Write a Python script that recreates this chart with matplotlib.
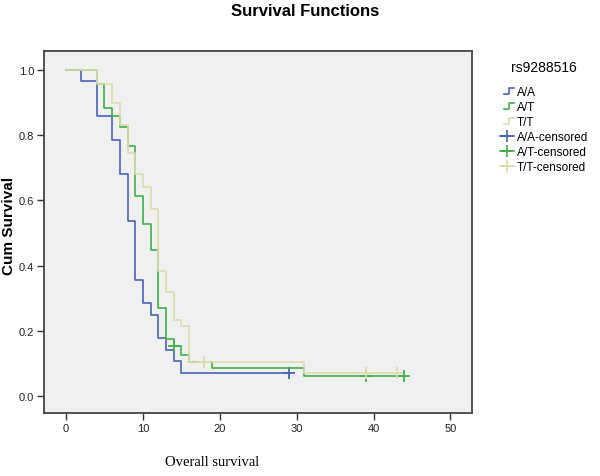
import matplotlib
matplotlib.use("Agg")
import matplotlib.pyplot as plt
from matplotlib.lines import Line2D
from matplotlib.legend_handler import HandlerBase

plt.rcParams['font.family'] = ['Liberation Sans', 'DejaVu Sans']

# A/A
aa_time = [0, 2, 4, 6, 7, 8, 9, 10, 11, 12, 13, 14, 15, 29]
aa_surv = [1.0, 0.964, 0.857, 0.786, 0.679, 0.536, 0.357, 0.286, 0.25, 0.179, 0.143, 0.107, 0.071, 0.071]
aa_cens_time = [29]
aa_cens_surv = [0.071]

# A/T
at_time = [0, 4, 5, 6, 7, 8, 9, 10, 11, 12, 13, 14, 15, 16, 19, 31, 44]
at_surv = [1.0, 0.956, 0.882, 0.859, 0.823, 0.765, 0.614, 0.529, 0.448, 0.270, 0.175, 0.153, 0.127, 0.104, 0.086, 0.063, 0.063]
at_cens_time = [14, 39, 44]
at_cens_surv = [0.153, 0.063, 0.063]

# T/T
tt_time = [0, 4, 6, 7, 8, 9, 10, 11, 12, 13, 14, 15, 16, 31, 43]
tt_surv = [1.0, 0.956, 0.897, 0.831, 0.744, 0.680, 0.640, 0.573, 0.384, 0.320, 0.234, 0.214, 0.106, 0.071, 0.071]
tt_cens_time = [18, 39, 43]
tt_cens_surv = [0.106, 0.071, 0.071]

groups = ['A/A', 'A/T', 'T/T']
colors = ['#4a63b4', '#3fb04a', '#dcdcac']


class StepHandler(HandlerBase):
    # stair icon like SPSS
    def create_artists(self, legend, orig, xdescent, ydescent, width, height, fontsize, trans):
        x0 = -xdescent + width * 0.25
        y0 = -ydescent
        w = width * 0.75
        xs = [x0, x0 + w * 0.5, x0 + w * 0.5, x0 + w]
        ys = [y0 + height * 0.2, y0 + height * 0.2, y0 + height * 0.8, y0 + height * 0.8]
        l = Line2D(xs, ys, color=orig.get_color(), lw=orig.get_linewidth())
        l.set_transform(trans)
        return [l]


fig = plt.figure(figsize=(6, 4.77), dpi=100)
ax = fig.add_axes([44 / 600, 1 - 414 / 477, 428 / 600, 362 / 477])
ax.set_facecolor('#f0f0f0')

data = [(aa_time, aa_surv, aa_cens_time, aa_cens_surv),
        (at_time, at_surv, at_cens_time, at_cens_surv),
        (tt_time, tt_surv, tt_cens_time, tt_cens_surv)]

line_handles = []
cens_handles = []
for i in range(3):
    t, s, ct, cs = data[i]
    line, = ax.step(t, s, where='post', color=colors[i], lw=1.2)
    line_handles.append(line)
    c, = ax.plot(ct, cs, linestyle='none', marker='+', markersize=8,
                 mew=1.3, color=colors[i])
    cens_handles.append(Line2D([0], [0], color=colors[i], lw=1.2, marker='+',
                               markersize=9, mew=1.2))

ax.set_xlim(-2.86, 52.8)
ax.set_ylim(-0.051, 1.057)
ax.set_xticks([0, 10, 20, 30, 40, 50])
ax.set_yticks([0.0, 0.2, 0.4, 0.6, 0.8, 1.0])
ax.set_yticklabels(['0.0', '0.2', '0.4', '0.6', '0.8', '1.0'])
ax.tick_params(direction='out', length=5, width=1, color='#333333',
               labelsize=8, labelcolor='#222222', pad=2)
for sp in ax.spines.values():
    sp.set_color('#444444')
    sp.set_linewidth(1.3)

fig.text(305 / 600, 1 - 11 / 477, 'Survival Functions', ha='center', va='center',
         fontsize=12, fontweight='bold')
fig.text(9 / 600, 1 - 226 / 477, 'Cum Survival', ha='center', va='center',
         rotation=90, fontsize=11, fontweight='bold')
fig.text(212 / 600, 1 - 463 / 477, 'Overall survival', ha='center', va='center',
         fontsize=10.5, family=['Liberation Serif', 'DejaVu Serif'])

labels = groups + [g + '-censored' for g in groups]
handler_map = {h: StepHandler() for h in line_handles}
leg = ax.legend(line_handles + cens_handles, labels, handler_map=handler_map,
                loc='upper left', bbox_to_anchor=(500 / 600, 1 - 61 / 477),
                bbox_transform=fig.transFigure, frameon=False, fontsize=8.5,
                title='rs9288516', title_fontsize=10, borderpad=0,
                labelspacing=0.25, handlelength=1.2, handleheight=0.9,
                handletextpad=0.25, borderaxespad=0)
leg._legend_box.align = 'center'
leg._legend_box.sep = 9

fig.savefig('out.png', dpi=100)
